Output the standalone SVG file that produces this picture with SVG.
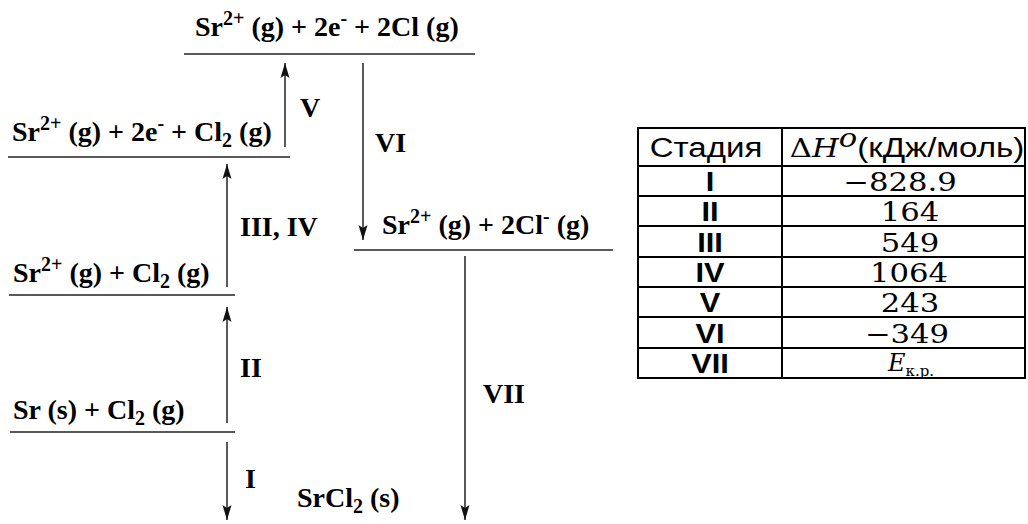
<svg xmlns="http://www.w3.org/2000/svg" width="1028" height="524" viewBox="0 0 1028 524">
<defs>
<style>
.lv{font-family:"Liberation Serif","Times New Roman",serif;font-weight:bold;font-size:28px;fill:#000}
.sup{font-size:20px}
.lbl{font-family:"Liberation Serif","Times New Roman",serif;font-weight:bold;font-size:28px;fill:#000}
.lvl{stroke:#222;stroke-width:1.5;fill:none}
.arr{stroke:#222;stroke-width:1.5;fill:none;marker-end:url(#ah)}
.tb{stroke:#000;stroke-width:2;fill:none}
.th{font-family:"Liberation Sans",Arial,sans-serif;font-size:28px;fill:#000}
.tr{font-family:"Liberation Sans",Arial,sans-serif;font-weight:bold;font-size:28px;fill:#000}
.tv{font-family:"DejaVu Serif",serif;font-size:26px;fill:#000}
</style>
<marker id="ah" markerUnits="userSpaceOnUse" markerWidth="16" markerHeight="12" viewBox="0 0 16 12" refX="15" refY="6" orient="auto">
<path d="M0,1.5 L15,6 L0,10.5 L3,6 z" fill="#111"/>
</marker>
</defs>
<g id="levels">
<g id="lvl-top"><line class="lvl" x1="184" y1="54" x2="475" y2="54"/>
<text class="lv" x="195" y="36">Sr<tspan class="sup" dy="-11">2+</tspan><tspan dy="11"> (g) + 2e</tspan><tspan class="sup" dy="-11">-</tspan><tspan dy="11"> + 2Cl (g)</tspan></text></g>
<g id="lvl-2"><line class="lvl" x1="8" y1="157" x2="290" y2="157"/>
<text class="lv" x="12" y="141">Sr<tspan class="sup" dy="-11">2+</tspan><tspan dy="11"> (g) + 2e</tspan><tspan class="sup" dy="-11">-</tspan><tspan dy="11"> + Cl</tspan><tspan class="sup" dy="6">2</tspan><tspan dy="-6"> (g)</tspan></text></g>
<g id="lvl-3"><line class="lvl" x1="9" y1="295" x2="235" y2="295"/>
<text class="lv" x="13" y="282">Sr<tspan class="sup" dy="-11">2+</tspan><tspan dy="11"> (g) + Cl</tspan><tspan class="sup" dy="6">2</tspan><tspan dy="-6"> (g)</tspan></text></g>
<g id="lvl-4"><line class="lvl" x1="10" y1="432" x2="235" y2="432"/>
<text class="lv" x="13" y="419">Sr (s) + Cl<tspan class="sup" dy="6">2</tspan><tspan dy="-6"> (g)</tspan></text></g>
<g id="lvl-5"><line class="lvl" x1="354" y1="250" x2="613" y2="250"/>
<text class="lv" x="382" y="234">Sr<tspan class="sup" dy="-11">2+</tspan><tspan dy="11"> (g) + 2Cl</tspan><tspan class="sup" dy="-11">-</tspan><tspan dy="11"> (g)</tspan></text></g>
<g id="lvl-6">
<text class="lv" x="297" y="507">SrCl<tspan class="sup" dy="6">2</tspan><tspan dy="-6"> (s)</tspan></text></g>
</g>
<g id="connectors">
<line class="arr" x1="285" y1="147" x2="285" y2="63"/>
<line class="arr" x1="227" y1="287" x2="227" y2="164"/>
<line class="arr" x1="227" y1="423" x2="227" y2="307"/>
<line class="arr" x1="227" y1="442" x2="227" y2="520"/>
<line class="arr" x1="363" y1="63" x2="363" y2="240"/>
<line class="arr" x1="465" y1="256" x2="465" y2="520"/>
<text class="lbl" x="300" y="117">V</text>
<text class="lbl" x="240" y="236">III, IV</text>
<text class="lbl" x="240" y="377">II</text>
<text class="lbl" x="245" y="488">I</text>
<text class="lbl" x="375" y="152">VI</text>
<text class="lbl" x="483" y="403">VII</text>
</g>
<g id="table">
<rect class="tb" x="638" y="128" width="387" height="250"/>
<line class="tb" x1="782" y1="128" x2="782" y2="378"/>
<line class="tb" x1="638" y1="166" x2="1025" y2="166"/>
<line class="tb" x1="638" y1="196" x2="1025" y2="196"/>
<line class="tb" x1="638" y1="226" x2="1025" y2="226"/>
<line class="tb" x1="638" y1="257" x2="1025" y2="257"/>
<line class="tb" x1="638" y1="287" x2="1025" y2="287"/>
<line class="tb" x1="638" y1="317" x2="1025" y2="317"/>
<line class="tb" x1="638" y1="348" x2="1025" y2="348"/>
<text class="th" text-anchor="middle" transform="translate(706,157) scale(1.18,1)">Стадия</text>
<text class="th" text-anchor="middle" transform="translate(907,157) scale(1.18,1)"><tspan class="tv">Δ</tspan><tspan class="tv" font-style="italic">H</tspan><tspan class="tv" font-style="italic" font-size="18" dy="-10">o</tspan><tspan dy="10">(кДж/моль)</tspan></text>
<text class="tr" text-anchor="middle" transform="translate(710,191) scale(1.1,1)">I</text>
<text class="tv" text-anchor="middle" transform="translate(900,191) scale(1.18,1)">−828.9</text>
<text class="tr" text-anchor="middle" transform="translate(710,221) scale(1.1,1)">II</text>
<text class="tv" text-anchor="middle" transform="translate(910,221) scale(1.18,1)">164</text>
<text class="tr" text-anchor="middle" transform="translate(710,252) scale(1.1,1)">III</text>
<text class="tv" text-anchor="middle" transform="translate(910,252) scale(1.18,1)">549</text>
<text class="tr" text-anchor="middle" transform="translate(710,282) scale(1.1,1)">IV</text>
<text class="tv" text-anchor="middle" transform="translate(909,282) scale(1.18,1)">1064</text>
<text class="tr" text-anchor="middle" transform="translate(710,312) scale(1.1,1)">V</text>
<text class="tv" text-anchor="middle" transform="translate(910,312) scale(1.18,1)">243</text>
<text class="tr" text-anchor="middle" transform="translate(710,343) scale(1.1,1)">VI</text>
<text class="tv" text-anchor="middle" transform="translate(907,343) scale(1.18,1)">−349</text>
<text class="tr" text-anchor="middle" transform="translate(710,373) scale(1.1,1)">VII</text>
<text class="tv" text-anchor="middle" transform="translate(911,371)"><tspan font-style="italic" font-size="24">E</tspan><tspan font-size="15" dy="5">к.р.</tspan></text>
</g>
</svg>
